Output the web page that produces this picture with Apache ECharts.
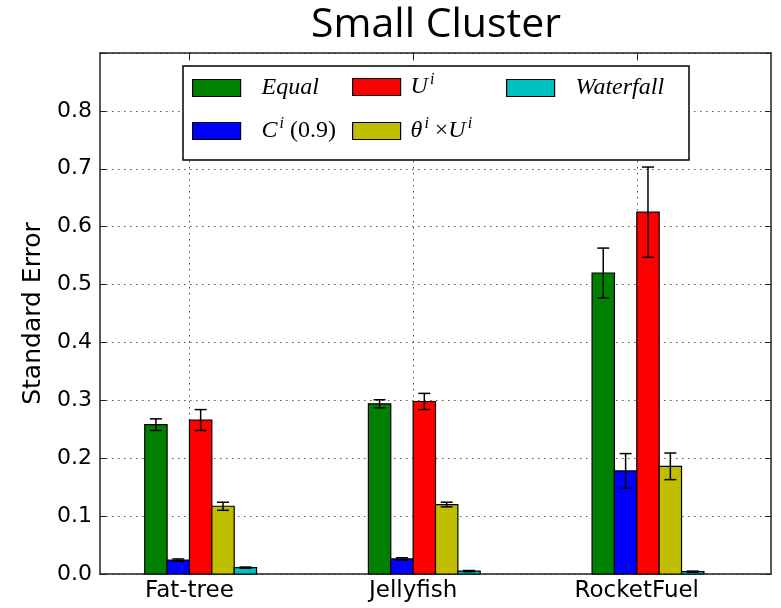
<!DOCTYPE html>
<html>
<head>
<meta charset="utf-8">
<script src="https://cdn.jsdelivr.net/npm/echarts@6/dist/echarts.min.js"></script>
<style>
  html, body { margin: 0; padding: 0; background: #fff; }
  #chart { width: 781px; height: 608px; }
</style>
</head>
<body>
<div id="chart"></div>
<script>
// Topologies along the x axis
const categories = ['Fat-tree', 'Jellyfish', 'RocketFuel'];

// Series (in bar order within each group)
const seriesNames = ['Equal', 'C^i (0.9)', 'U^i', 'θ^i ×U^i', 'Waterfall'];
const seriesColors = ['#008000', '#0000ff', '#ff0000', '#bfbf00', '#00bfbf'];

// Mean standard error per topology
const equalValues     = [0.258, 0.294, 0.520];
const cValues         = [0.024, 0.026, 0.178];
const uValues         = [0.266, 0.298, 0.625];
const thetaUValues    = [0.117, 0.120, 0.186];
const waterfallValues = [0.011, 0.005, 0.004];

// Error bar half-heights
const equalErr     = [0.010, 0.007, 0.043];
const cErr         = [0.002, 0.002, 0.030];
const uErr         = [0.018, 0.014, 0.078];
const thetaUErr    = [0.007, 0.004, 0.023];
const waterfallErr = [0.001, 0.001, 0.001];

// Y axis ticks
const yTicks = [0.0, 0.1, 0.2, 0.3, 0.4, 0.5, 0.6, 0.7, 0.8];

const allValues = [equalValues, cValues, uValues, thetaUValues, waterfallValues];
const allErrs = [equalErr, cErr, uErr, thetaUErr, waterfallErr];

const BAR_W = 0.1;          // bar width in x-axis units
const TICK_FONT = 'DejaVu Sans';

// Each bar is drawn through the axis scales: rect + error bar with caps
function renderBar(params, api) {
  const c = api.value(0), v = api.value(1), e = api.value(2);
  const slot = params.seriesIndex;
  const x0 = c + (slot - 2) * BAR_W;
  const x1 = x0 + BAR_W;
  const pTop = api.coord([x0, v]);
  const pBase = api.coord([x1, 0]);
  const xm = (x0 + x1) / 2;
  const eTop = api.coord([xm, v + e]);
  const eBot = api.coord([xm, v - e]);
  const cap = 6;
  const style = api.style();
  return {
    type: 'group',
    children: [
      {
        type: 'rect',
        shape: { x: pTop[0], y: pTop[1], width: pBase[0] - pTop[0], height: pBase[1] - pTop[1] },
        style: { fill: style.fill, stroke: '#000', lineWidth: 1.2 }
      },
      { type: 'line', shape: { x1: eTop[0], y1: eTop[1], x2: eBot[0], y2: eBot[1] }, style: { stroke: '#000', lineWidth: 1.5 } },
      { type: 'line', shape: { x1: eTop[0] - cap, y1: eTop[1], x2: eTop[0] + cap, y2: eTop[1] }, style: { stroke: '#000', lineWidth: 1.5 } },
      { type: 'line', shape: { x1: eBot[0] - cap, y1: eBot[1], x2: eBot[0] + cap, y2: eBot[1] }, style: { stroke: '#000', lineWidth: 1.5 } }
    ]
  };
}

const series = seriesNames.map((name, i) => ({
  name: name,
  type: 'custom',
  xAxisIndex: 0,
  yAxisIndex: 0,
  itemStyle: { color: seriesColors[i], borderColor: '#000', borderWidth: 1 },
  renderItem: renderBar,
  encode: { x: 0, y: 1 },
  data: categories.map((_, k) => [k, allValues[i][k], allErrs[i][k]])
}));

// Math-style legend labels
const legendRich = {
  g:   { width: 16 },
  gs:  { width: 5 },
  it:  { fontFamily: 'Liberation Serif', fontStyle: 'italic', fontSize: 24, color: '#000' },
  rm:  { fontFamily: 'Liberation Serif', fontStyle: 'normal', fontSize: 24, color: '#000' },
  sup: { fontFamily: 'Liberation Serif', fontStyle: 'italic', fontSize: 16, color: '#000', padding: [0, 0, 14, 2] }
};
const legendText = {
  'Equal': '{g|}{it|Equal}',
  'C^i (0.9)': '{g|}{it|C}{sup|i}{rm| (0.9)}',
  'U^i': '{gs|}{it|U}{sup|i}',
  'θ^i ×U^i': '{gs|}{it|θ}{sup|i}{rm| ×}{it|U}{sup|i}',
  'Waterfall': '{g|}{it|Waterfall}'
};
const legendPos = [
  { left: 192, top: 76 },
  { left: 192, top: 116 },
  { left: 352, top: 72 },
  { left: 352, top: 116 },
  { left: 506, top: 76 }
];
const legends = seriesNames.map((name, i) => ({
  data: [name],
  left: legendPos[i].left,
  top: legendPos[i].top,
  padding: 0,
  z: 20,
  icon: 'rect',
  itemWidth: 48,
  itemHeight: 17,
  selectedMode: false,
  itemStyle: { borderColor: '#000', borderWidth: 1.2 },
  formatter: n => legendText[n],
  textStyle: { fontSize: 24, color: '#000', rich: legendRich }
}));

const axisLineStyle = { show: true, onZero: false, lineStyle: { color: '#222', width: 1.5 } };
const gridLineStyle = { color: '#555', width: 1, type: [1.5, 4.5] };

const chart = echarts.init(document.getElementById('chart'), null, { renderer: 'canvas' });
chart.setOption({
  animation: false,
  backgroundColor: '#fff',
  title: {
    text: 'Small Cluster',
    left: 431,
    textAlign: 'center',
    top: 0,
    textStyle: { fontFamily: 'Open Sans', fontWeight: 'normal', fontSize: 41, color: '#000' }
  },
  grid: { left: 100, right: 10, top: 53, bottom: 34, containLabel: false },
  legend: legends,
  graphic: [{
    type: 'rect',
    shape: { x: 183, y: 66, width: 506, height: 94 },
    style: { fill: '#fff', stroke: '#000', lineWidth: 1.5 },
    z: 10
  }],
  xAxis: [
    {
      type: 'value',
      position: 'bottom',
      min: -0.4,
      max: 2.6,
      axisLine: axisLineStyle,
      axisTick: { show: true, inside: true, length: 7, customValues: [0, 1, 2], lineStyle: { color: '#222' } },
      axisLabel: {
        show: true, margin: 6, customValues: [0, 1, 2],
        formatter: v => categories[Math.round(v)] || '',
        fontFamily: TICK_FONT, fontSize: 23, color: '#000'
      },
      splitLine: { show: true, lineStyle: gridLineStyle }
    },
    {
      type: 'value',
      position: 'top',
      min: -0.4,
      max: 2.6,
      axisLine: axisLineStyle,
      axisTick: { show: true, inside: true, length: 7, customValues: [0, 1, 2], lineStyle: { color: '#222' } },
      axisLabel: { show: false },
      splitLine: { show: false }
    }
  ],
  yAxis: [
    {
      type: 'value',
      position: 'left',
      min: 0,
      max: 0.9,
      interval: 0.1,
      name: 'Standard Error',
      nameLocation: 'middle',
      nameGap: 52,
      nameTextStyle: { fontFamily: TICK_FONT, fontSize: 25, color: '#000' },
      axisLine: axisLineStyle,
      axisTick: { show: true, inside: true, length: 6, lineStyle: { color: '#222' } },
      axisLabel: {
        margin: 8,
        formatter: v => (yTicks.some(t => Math.abs(t - v) < 1e-6) ? v.toFixed(1) : ''),
        fontFamily: TICK_FONT, fontSize: 22, color: '#000'
      },
      splitLine: { show: true, lineStyle: gridLineStyle }
    },
    {
      type: 'value',
      position: 'right',
      min: 0,
      max: 0.9,
      interval: 0.1,
      axisLine: axisLineStyle,
      axisTick: { show: true, inside: true, length: 6, lineStyle: { color: '#222' } },
      axisLabel: { show: false },
      splitLine: { show: false }
    }
  ],
  series: series
});
</script>
</body>
</html>
